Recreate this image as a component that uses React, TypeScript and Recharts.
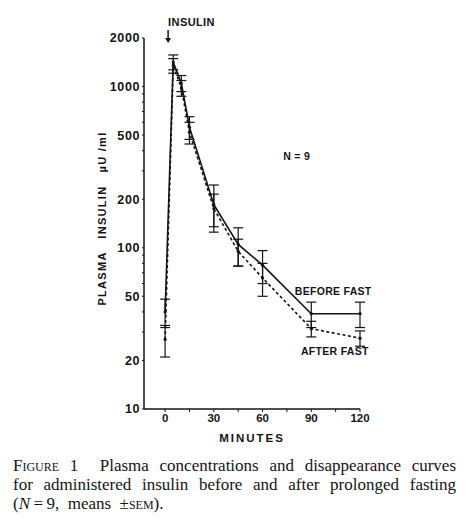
import React from "react";
import {
  ComposedChart,
  Line,
  XAxis,
  YAxis,
  ErrorBar,
  ReferenceDot,
} from "recharts";

// sampling times (minutes after insulin)
const minutes = [0, 5, 10, 15, 30, 45, 60, 90, 120];

// plasma insulin, µU/ml (means) and SEM
const beforeFast = [40, 1420, 1050, 560, 185, 105, 78, 39, 39];
const beforeSem = [8, 150, 120, 90, 60, 28, 18, 7, 7];
const afterFast = [27, 1350, 980, 520, 175, 95, 65, 31.5, 27.5];
const afterSem = [6, 140, 110, 80, 40, 18, 15, 3.5, 3];

const yTicks = [10, 20, 30, 40, 50, 60, 70, 80, 90, 100, 200, 300, 400, 500, 600, 700, 800, 900, 1000, 2000];
const yLabels = [10, 20, 50, 100, 200, 500, 1000, 2000];
const xTicks = [0, 15, 30, 45, 60, 75, 90, 105, 120];
const xLabels = [0, 30, 60, 90, 120];

const INK = "#141414";
const FONT = "'Liberation Sans', Arial, sans-serif";

const data = minutes.map((t, i) => ({
  t,
  before: beforeFast[i],
  beforeErr: beforeSem[i],
  after: afterFast[i],
  afterErr: afterSem[i],
}));

const textLabel = (text: string, dx = 0) =>
  // eslint-disable-next-line @typescript-eslint/no-explicit-any
  (props: any) => {
    const vb = props.viewBox || {};
    const cx = (vb.x ?? 0) + (vb.width ?? 0) / 2;
    const cy = (vb.y ?? 0) + (vb.height ?? 0) / 2;
    return (
      <text
        x={cx + dx}
        y={cy}
        textAnchor="middle"
        dominantBaseline="central"
        fontFamily={FONT}
        fontWeight={700}
        fontSize={10.5}
        letterSpacing={0.3}
        fill={INK}
      >
        {text}
      </text>
    );
  };

// arrow + "INSULIN" marker above t = 0
// eslint-disable-next-line @typescript-eslint/no-explicit-any
const InsulinMark = (props: any) => {
  const vb = props.viewBox || {};
  const cx = (vb.x ?? 0) + (vb.width ?? 0) / 2 + 3;
  const cy = (vb.y ?? 0) + (vb.height ?? 0) / 2;
  return (
    <g>
      <text x={cx} y={cy - 12} fontFamily={FONT} fontWeight={700} fontSize={11} letterSpacing={0.4} fill={INK}>
        INSULIN
      </text>
      <line x1={cx} y1={cy - 8} x2={cx} y2={cy + 1} stroke={INK} strokeWidth={1.5} />
      <path d={`M${cx - 3} ${cy} L${cx + 3} ${cy} L${cx} ${cy + 5} Z`} fill={INK} />
    </g>
  );
};

const captionLine: React.CSSProperties = {
  textAlign: "justify",
  textAlignLast: "justify",
  whiteSpace: "nowrap",
};

export default function App() {
  return (
    <div style={{ position: "absolute", left: 0, top: 0, width: 472, height: 519, background: "#fff" }}>
      <ComposedChart
        width={472}
        height={450}
        data={data}
        margin={{ top: 38, right: 112, bottom: 11, left: 0 }}
      >
        <XAxis
          dataKey="t"
          type="number"
          domain={[-13, 120]}
          ticks={xTicks}
          tickFormatter={(v: number) => (xLabels.includes(v) ? String(v) : "")}
          axisLine={{ stroke: INK, strokeWidth: 1.5 }}
          tickLine={{ stroke: INK }}
          tickSize={3}
          height={30}
          tick={{ fontSize: 11.5, fontFamily: FONT, fill: INK, fontWeight: 600 }}
          label={(props: any) => {
            const vb = props.viewBox || {};
            return (
              <text
                x={(vb.x ?? 0) + (vb.width ?? 0) / 2}
                y={(vb.y ?? 0) + 33}
                textAnchor="middle"
                fontFamily={FONT}
                fontWeight={600}
                fontSize={11.5}
                letterSpacing={2}
                fill={INK}
              >
                MINUTES
              </text>
            );
          }}
        />
        <YAxis
          scale="log"
          domain={[10, 2000]}
          ticks={yTicks}
          allowDataOverflow
          interval={0}
          tickFormatter={(v: number) => (yLabels.includes(v) ? String(v) : "")}
          axisLine={{ stroke: INK, strokeWidth: 1.5 }}
          tickLine={{ stroke: INK }}
          tickSize={2}
          width={144}
          tick={{ fontSize: 12.5, fontFamily: FONT, fill: INK, fontWeight: 600, letterSpacing: 0.6 }}
          label={(props: any) => {
            const vb = props.viewBox || {};
            const x = (vb.x ?? 0) + 102;
            const y = (vb.y ?? 0) + (vb.height ?? 0) / 2 - 5;
            return (
              <text
                x={x}
                y={y}
                transform={`rotate(-90, ${x}, ${y})`}
                textAnchor="middle"
                dominantBaseline="central"
                fontFamily={FONT}
                fontWeight={600}
                fontSize={11}
                letterSpacing={1.3}
                fill={INK}
                style={{ whiteSpace: "pre" }}
              >
                {"PLASMA   INSULIN   \u00b5U /ml"}
              </text>
            );
          }}
        />

        <Line
          dataKey="before"
          stroke={INK}
          strokeWidth={1.6}
          dot={{ r: 1.6, fill: INK, stroke: "none" }}
          activeDot={false}
          isAnimationActive={false}
        >
          <ErrorBar dataKey="beforeErr" width={5} stroke={INK} strokeWidth={1.2} direction="y" />
        </Line>
        <Line
          dataKey="after"
          stroke={INK}
          strokeWidth={1.6}
          strokeDasharray="3 2.5"
          dot={{ r: 1.6, fill: INK, stroke: "none" }}
          activeDot={false}
          isAnimationActive={false}
        >
          <ErrorBar dataKey="afterErr" width={5} stroke={INK} strokeWidth={1.2} direction="y" />
        </Line>

        <ReferenceDot x={0} y={2000} r={0} ifOverflow="visible" label={InsulinMark} />
        <ReferenceDot x={81} y={370} r={0} ifOverflow="visible" label={textLabel("N = 9")} />
        <ReferenceDot x={103.5} y={54} r={0} ifOverflow="visible" label={textLabel("BEFORE FAST")} />
        <ReferenceDot x={104.5} y={23} r={0} ifOverflow="visible" label={textLabel("AFTER FAST")} />
      </ComposedChart>

      <div
        style={{
          position: "absolute",
          left: 13,
          top: 456,
          width: 443,
          fontFamily: "'Liberation Serif', 'DejaVu Serif', serif",
          fontSize: 17,
          lineHeight: "19px",
          color: INK,
        }}
      >
        <div style={captionLine}>
          <span style={{ fontVariant: "small-caps" }}>Figure</span> 1&nbsp;&nbsp;Plasma concentrations and disappearance curves
        </div>
        <div style={captionLine}>for administered insulin before and after prolonged fasting</div>
        <div>
          (<i>N</i>&thinsp;=&thinsp;9, &nbsp;means &nbsp;±<span style={{ fontVariant: "small-caps" }}>sem</span>).
        </div>
      </div>
    </div>
  );
}
